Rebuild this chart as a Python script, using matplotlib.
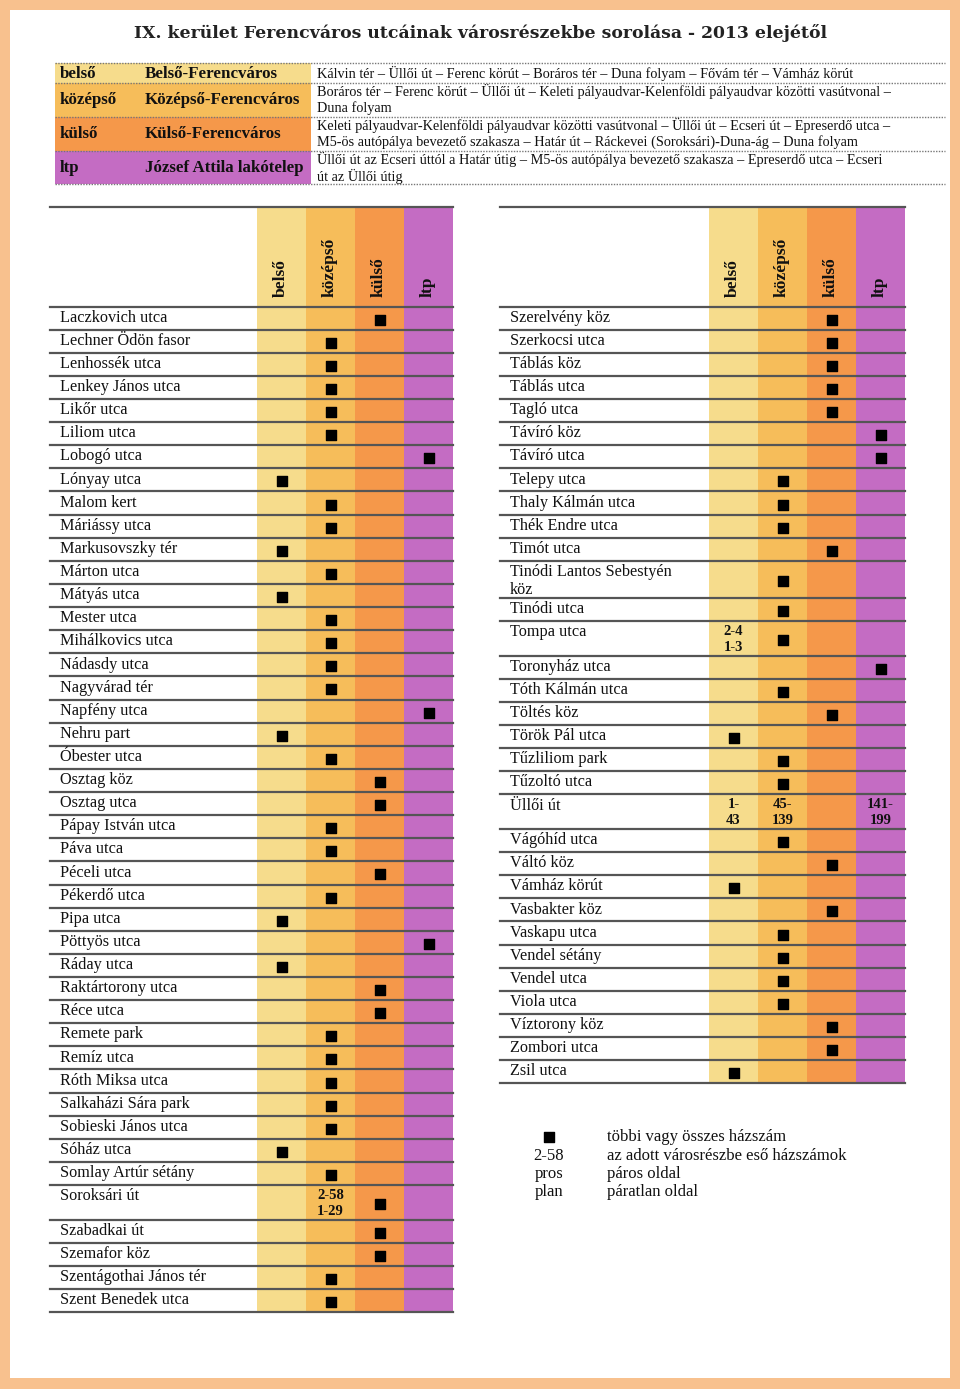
import matplotlib
matplotlib.use("Agg")
import matplotlib.pyplot as plt
from matplotlib.patches import Rectangle

# ---------------- data ----------------
TITLE = "IX. kerület Ferencváros utcáinak városrészekbe sorolása - 2013 elejétől"

ZONE_ABBR = ["belső", "középső", "külső", "ltp"]
ZONE_NAME = ["Belső-Ferencváros", "Középső-Ferencváros", "Külső-Ferencváros", "József Attila lakótelep"]
ZONE_DESC = [
    "Kálvin tér – Üllői út – Ferenc körút – Boráros tér – Duna folyam – Fővám tér – Vámház körút",
    "Boráros tér – Ferenc körút – Üllői út – Keleti pályaudvar-Kelenföldi pályaudvar közötti vasútvonal –\nDuna folyam",
    "Keleti pályaudvar-Kelenföldi pályaudvar közötti vasútvonal – Üllői út – Ecseri út – Epreserdő utca –\nM5-ös autópálya bevezető szakasza – Határ út – Ráckevei (Soroksári)-Duna-ág – Duna folyam",
    "Üllői út az Ecseri úttól a Határ útig – M5-ös autópálya bevezető szakasza – Epreserdő utca – Ecseri\nút az Üllői útig",
]
ZONE_COLORS = ["#F6DC8C", "#F6BD5A", "#F5984A", "#C46CC3"]

LEFT_NAMES = [
    "Laczkovich utca", "Lechner Ödön fasor", "Lenhossék utca", "Lenkey János utca", "Likőr utca",
    "Liliom utca", "Lobogó utca", "Lónyay utca", "Malom kert", "Máriássy utca",
    "Markusovszky tér", "Márton utca", "Mátyás utca", "Mester utca", "Mihálkovics utca",
    "Nádasdy utca", "Nagyvárad tér", "Napfény utca", "Nehru part", "Óbester utca",
    "Osztag köz", "Osztag utca", "Pápay István utca", "Páva utca", "Péceli utca",
    "Pékerdő utca", "Pipa utca", "Pöttyös utca", "Ráday utca", "Raktártorony utca",
    "Réce utca", "Remete park", "Remíz utca", "Róth Miksa utca", "Salkaházi Sára park",
    "Sobieski János utca", "Sóház utca", "Somlay Artúr sétány", "Soroksári út", "Szabadkai út",
    "Szemafor köz", "Szentágothai János tér", "Szent Benedek utca",
]
LEFT_MARK = [
    2, 1, 1, 1, 1,
    1, 3, 0, 1, 1,
    0, 1, 0, 1, 1,
    1, 1, 3, 0, 1,
    2, 2, 1, 1, 2,
    1, 0, 3, 0, 2,
    2, 1, 1, 1, 1,
    1, 0, 1, 2, 2,
    2, 1, 1,
]
LEFT_RANGES = {"Soroksári út": {1: "2-58\n1-29"}}

RIGHT_NAMES = [
    "Szerelvény köz", "Szerkocsi utca", "Táblás köz", "Táblás utca", "Tagló utca",
    "Távíró köz", "Távíró utca", "Telepy utca", "Thaly Kálmán utca", "Thék Endre utca",
    "Timót utca", "Tinódi Lantos Sebestyén\nköz", "Tinódi utca", "Tompa utca", "Toronyház utca",
    "Tóth Kálmán utca", "Töltés köz", "Török Pál utca", "Tűzliliom park", "Tűzoltó utca",
    "Üllői út", "Vágóhíd utca", "Váltó köz", "Vámház körút", "Vasbakter köz",
    "Vaskapu utca", "Vendel sétány", "Vendel utca", "Viola utca", "Víztorony köz",
    "Zombori utca", "Zsil utca",
]
RIGHT_MARK = [
    2, 2, 2, 2, 2,
    3, 3, 1, 1, 1,
    2, 1, 1, 1, 3,
    1, 2, 0, 1, 1,
    -1, 1, 2, 0, 2,
    1, 1, 1, 1, 2,
    2, 0,
]
RIGHT_RANGES = {
    "Tompa utca": {0: "2-4\n1-3"},
    "Üllői út": {0: "1-\n43", 1: "45-\n139", 3: "141-\n199"},
}

LEGEND_KEYS = ["■", "2-58", "pros", "plan"]
LEGEND_TEXT = ["többi vagy összes házszám", "az adott városrészbe eső házszámok",
               "páros oldal", "páratlan oldal"]

# ---------------- layout ----------------
SERIF = ["Liberation Serif", "DejaVu Serif"]
INK = "#111111"
W, H = 960, 1389
fig = plt.figure(figsize=(W / 100, H / 100), dpi=100)
ax = fig.add_axes([0, 0, 1, 1])
ax.set_xlim(0, W)
ax.set_ylim(H, 0)
ax.axis("off")

# frame
ax.add_patch(Rectangle((0, 0), W, H, facecolor="#F8C18E", edgecolor="none", zorder=0))
ax.add_patch(Rectangle((10, 10), W - 20, H - 21, facecolor="white", edgecolor="none", zorder=0.5))

# title
ax.text(W / 2, 33, TITLE, ha="center", va="center", fontsize=12.4, fontweight="bold",
        family=["DejaVu Serif"], color="#222222")


def multiline(x, ytop, txt, step, **kw):
    for j, line in enumerate(txt.split("\n")):
        ax.text(x, ytop + j * step, line, va="center", **kw)


# top zone table
zt_x0, zt_x1, zt_xc = 55, 945, 311
zt_rows = [63, 83, 117, 151, 184]
for i in range(4):
    y0, y1 = zt_rows[i], zt_rows[i + 1]
    ax.add_patch(Rectangle((zt_x0, y0), zt_xc - zt_x0, y1 - y0,
                           facecolor=ZONE_COLORS[i], edgecolor="none", zorder=1))
    ym = (y0 + y1) / 2 + 0.5
    ax.text(60, ym, ZONE_ABBR[i], ha="left", va="center", fontsize=12.2,
            fontweight="bold", family=SERIF, color=INK, zorder=3)
    ax.text(145, ym, ZONE_NAME[i], ha="left", va="center", fontsize=12.2,
            fontweight="bold", family=SERIF, color=INK, zorder=3)
    first = ym if i == 0 else y0 + 8.5
    multiline(317, first, ZONE_DESC[i], 16.5, ha="left", fontsize=10.3,
              family=SERIF, color=INK, zorder=3)
for y in zt_rows:
    ax.plot([zt_x0, zt_x1], [y, y], color="#777777", lw=1.0, ls=(0, (1, 1)), zorder=2)

# main tables
ROW_H = 23.12
TOP_Y = 207
HEAD_BOT = 306.5
COL_W = 49


def draw_table(x0, name_w, names, marks, ranges):
    xc0 = x0 + name_w
    x1 = xc0 + 4 * COL_W
    heights = []
    for nm in names:
        if "\n" in nm:
            heights.append(ROW_H * 1.6)
        elif nm in ranges:
            heights.append(ROW_H * 1.5)
        else:
            heights.append(ROW_H)
    bottom = HEAD_BOT + sum(heights)
    for c in range(4):
        ax.add_patch(Rectangle((xc0 + c * COL_W, TOP_Y), COL_W, bottom - TOP_Y,
                               facecolor=ZONE_COLORS[c], edgecolor="none", zorder=1))
        ax.text(xc0 + c * COL_W + COL_W / 2 - 1, 297, ZONE_ABBR[c], rotation=90,
                ha="center", va="bottom", fontsize=12.6, fontweight="bold",
                family=SERIF, color=INK, zorder=3)
    ax.plot([x0, x1], [TOP_Y, TOP_Y], color="#555555", lw=1.6, zorder=2)
    ax.plot([x0, x1], [HEAD_BOT, HEAD_BOT], color="#555555", lw=1.6, zorder=2)
    y = HEAD_BOT
    mx, my = [], []
    for nm, mk, h in zip(names, marks, heights):
        multiline(x0 + 10, y + 11.2, nm, 18, ha="left", fontsize=11.7,
                  family=SERIF, color=INK, zorder=3)
        if mk >= 0:
            mx.append(xc0 + mk * COL_W + COL_W / 2)
            my.append(y + h / 2 + 1.5)
        for c, txt in ranges.get(nm, {}).items():
            multiline(xc0 + c * COL_W + COL_W / 2, y + 10.5, txt, 16, ha="center",
                      fontsize=10.5, fontweight="bold", family=SERIF, color=INK, zorder=3)
        y += h
        ax.plot([x0, x1], [y, y], color="#555555", lw=1.6, zorder=2)
    ax.scatter(mx, my, marker="s", s=52, color="black", zorder=4)


draw_table(50, 207, LEFT_NAMES, LEFT_MARK, LEFT_RANGES)
draw_table(500, 209, RIGHT_NAMES, RIGHT_MARK, RIGHT_RANGES)

# bottom legend
for i, (k, t) in enumerate(zip(LEGEND_KEYS, LEGEND_TEXT)):
    yy = 1137 + i * 18.5
    if k == "■":
        ax.scatter([549], [yy], marker="s", s=52, color="black", zorder=4)
    else:
        ax.text(549, yy, k, ha="center", va="center", fontsize=12, family=SERIF, color=INK)
    ax.text(607, yy, t, ha="left", va="center", fontsize=12, family=SERIF, color=INK)

fig.savefig("out.png", dpi=100)
